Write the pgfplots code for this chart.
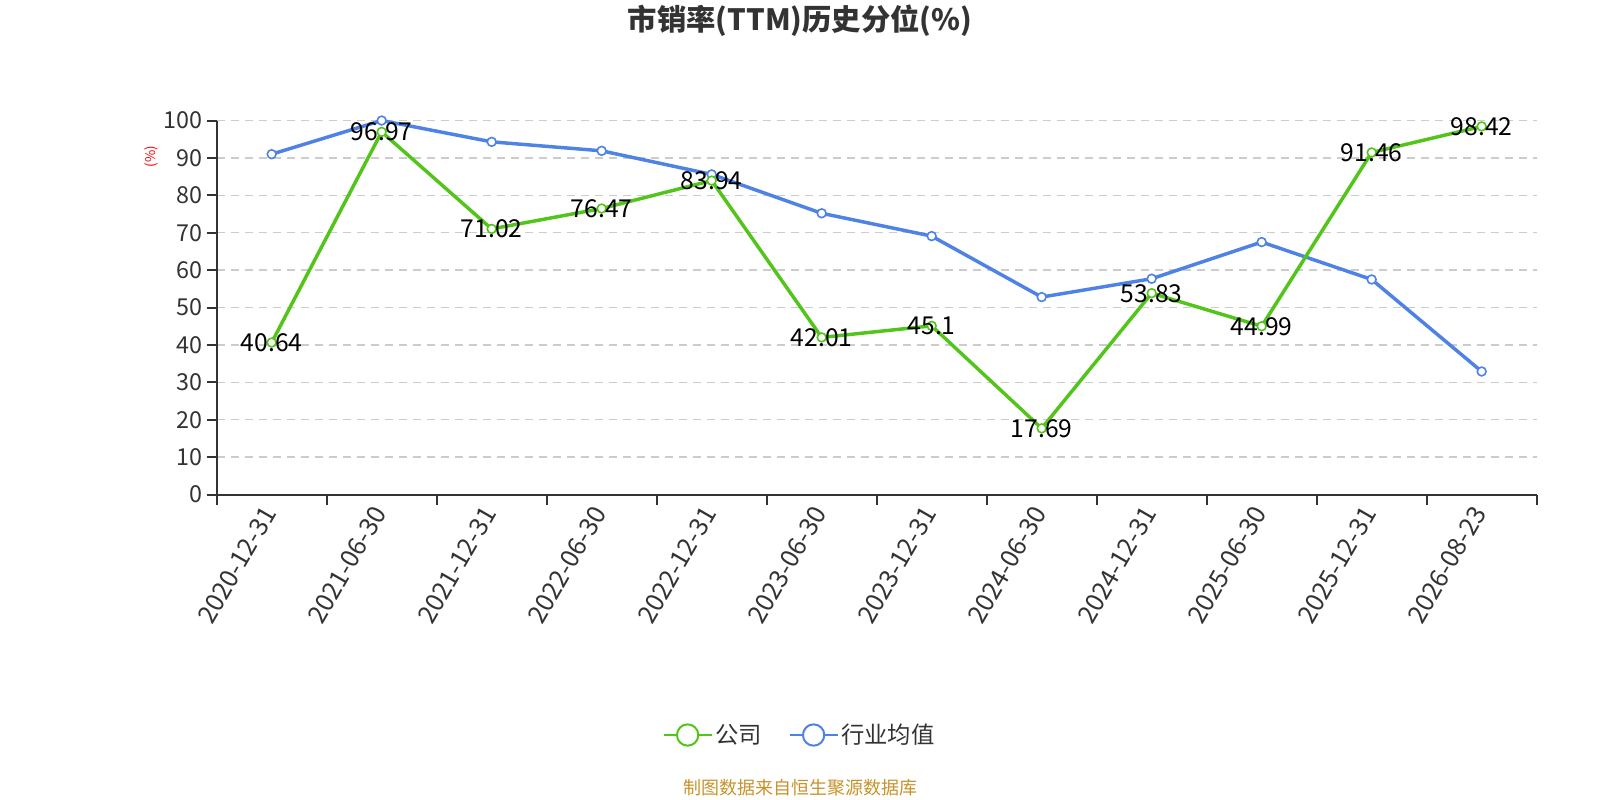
\documentclass[border=0pt]{standalone}
\usepackage{fontspec}
\setmainfont{Noto Sans CJK SC}
\usepackage{pgfplots}
\pgfplotsset{compat=1.18}
\definecolor{cgreen}{HTML}{52C41A}
\definecolor{cblue}{HTML}{4E82E4}
\definecolor{ctext}{HTML}{333333}
\definecolor{cgrid}{HTML}{CCCCCC}
\definecolor{cfoot}{HTML}{C8922A}
\begin{document}
\begin{tikzpicture}
\path[use as bounding box] (0pt,0pt) rectangle (1200pt,600pt);
\node[font=\fontsize{22}{25}\selectfont\bfseries, text=ctext] at (600pt,584.25pt) {市销率(TTM)历史分位(\%)};
\node[font=\fontsize{10}{11}\selectfont, text=red, rotate=90] at (113.8pt,482.5pt) {(\%)};
\node[font=\fontsize{13.5}{15}\selectfont, text=cfoot] at (600pt,9pt) {制图数据来自恒生聚源数据库};
\begin{axis}[
  at={(162.5pt,229.1pt)}, anchor=south west,
  scale only axis, width=990pt, height=280.5pt,
  xmin=-0.5, xmax=11.5, ymin=0, ymax=100,
  axis lines*=left,
  clip=false,
  ytick={0,10,...,100},
  xtick={0,...,11},
  xticklabels={2020-12-31,2021-06-30,2021-12-31,2022-06-30,2022-12-31,2023-06-30,2023-12-31,2024-06-30,2024-12-31,2025-06-30,2025-12-31,2026-08-23},
  minor xtick={-0.5,0.5,...,11.5},
  major x tick style={draw=none},
  tick align=outside,
  major tick length=7.5pt,
  minor tick length=7.5pt,
  axis line style={ctext, line width=1.5pt},
  tick style={ctext, line width=1.5pt},
  ymajorgrids,
  grid style={cgrid, line width=1.1pt, dash pattern=on 6pt off 4.5pt},
  /pgf/number format/assume math mode=true,
  yticklabel style={font=\fontsize{17.5}{20}\selectfont, text=ctext},
  xticklabel style={font=\fontsize{19}{22}\selectfont, text=ctext, rotate=60, anchor=east},
  legend style={at={(0.4419,-0.643)}, anchor=center, draw=none, fill=none,
    legend columns=-1, font=\fontsize{17.5}{20}\selectfont, text=ctext,
    /tikz/every even column/.append style={column sep=18pt}},
  legend image code/.code={\draw[#1, line width=1.5pt] (0pt,0pt) -- (36pt,0pt);
    \draw[#1, line width=1.5pt, fill=white] (18pt,0pt) circle (8pt);},
  reverse legend,
]
\addplot[cblue, line width=2.6pt, mark=*, mark size=3.3pt, mark options={fill=white, line width=1.2pt, solid}]
  coordinates {(0,91.0)(1,100)(2,94.3)(3,91.9)(4,85.6)(5,75.2)(6,69.1)(7,52.8)(8,57.7)(9,67.5)(10,57.5)(11,32.9)};
\addlegendentry{行业均值}
\addplot[cgreen, line width=2.6pt, mark=*, mark size=3.3pt, mark options={fill=white, line width=1.2pt, solid},
  nodes near coords,
  every node near coord/.append style={anchor=center, font=\fontsize{18.5}{21}\selectfont, text=black}]
  coordinates {(0,40.64)(1,96.97)(2,71.02)(3,76.47)(4,83.94)(5,42.01)(6,45.1)(7,17.69)(8,53.83)(9,44.99)(10,91.46)(11,98.42)};
\addlegendentry{公司}
\end{axis}
\end{tikzpicture}
\end{document}
